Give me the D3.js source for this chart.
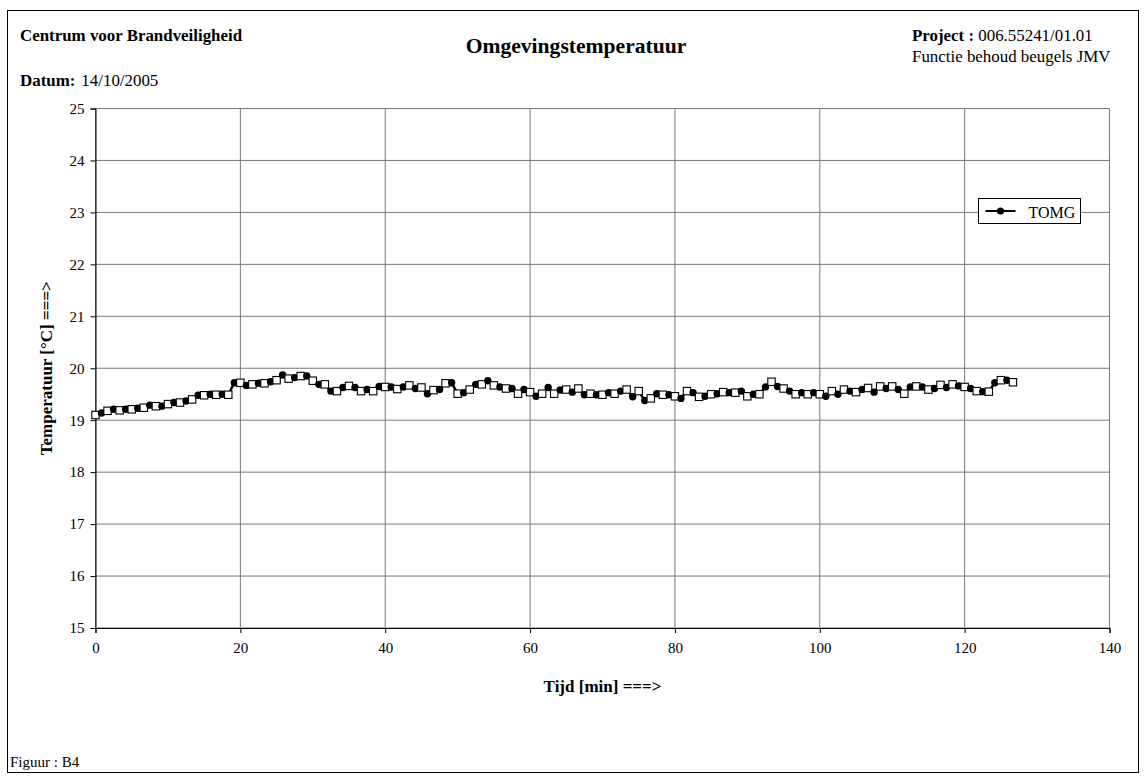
<!DOCTYPE html>
<head>
  <script src="https://cdn.jsdelivr.net/npm/d3@7/dist/d3.min.js"></script>
  <title>Omgevingstemperatuur</title>
  <style>
    body { margin: 0; background: #fff; }
    svg { display: block; font-family: "Liberation Serif", "Times New Roman", serif; }
  </style>
</head>
<div id="chart"></div>
<script>
  // sampling interval of the logger, minutes (50 s)
  const sampleMinutes = 50 / 60;
  // TOMG readings, one per sample
  const tomg = [
    19.10, 19.14, 19.18, 19.21, 19.19, 19.21, 19.21, 19.23, 19.24, 19.29,
    19.27, 19.27, 19.31, 19.34, 19.34, 19.37, 19.40, 19.48, 19.48, 19.50,
    19.49, 19.50, 19.49, 19.72, 19.72, 19.67, 19.69, 19.71, 19.71, 19.74,
    19.77, 19.87, 19.80, 19.82, 19.85, 19.85, 19.76, 19.69, 19.69, 19.56,
    19.56, 19.63, 19.66, 19.63, 19.56, 19.59, 19.56, 19.65, 19.64, 19.64,
    19.60, 19.64, 19.67, 19.61, 19.63, 19.51, 19.58, 19.59, 19.71, 19.72,
    19.51, 19.53, 19.59, 19.69, 19.69, 19.76, 19.67, 19.64, 19.61, 19.61,
    19.51, 19.59, 19.54, 19.46, 19.51, 19.63, 19.51, 19.58, 19.59, 19.54,
    19.61, 19.49, 19.51, 19.49, 19.49, 19.53, 19.51, 19.56, 19.59, 19.45,
    19.56, 19.38, 19.42, 19.51, 19.49, 19.49, 19.46, 19.42, 19.56, 19.53,
    19.45, 19.46, 19.50, 19.51, 19.54, 19.53, 19.53, 19.56, 19.46, 19.50,
    19.50, 19.64, 19.74, 19.65, 19.61, 19.56, 19.50, 19.53, 19.50, 19.53,
    19.50, 19.46, 19.56, 19.50, 19.59, 19.56, 19.54, 19.59, 19.62, 19.54,
    19.65, 19.61, 19.65, 19.59, 19.51, 19.64, 19.65, 19.64, 19.59, 19.61,
    19.68, 19.63, 19.69, 19.66, 19.64, 19.61, 19.56, 19.55, 19.55, 19.72,
    19.77, 19.77, 19.73
  ];
  const xTicks = [0, 20, 40, 60, 80, 100, 120, 140];
  const yTicks = [15, 16, 17, 18, 19, 20, 21, 22, 23, 24, 25];
  const seriesName = "TOMG";

  const width = 1146;
  const height = 778;
  const plot = {left: 95.5, right: 1109.5, top: 108.5, bottom: 628};

  const svg = d3.select("#chart").append("svg")
      .attr("width", width).attr("height", height);

  // page frame
  svg.append("rect")
      .attr("x", 7.5).attr("y", 10.5)
      .attr("width", 1131).attr("height", 762)
      .attr("fill", "none").attr("stroke", "#000");

  const x = d3.scaleLinear().domain([0, 140]).range([plot.left, plot.right]);
  const y = d3.scaleLinear().domain([15, 25]).range([plot.bottom, plot.top]);

  // grid
  svg.append("g").selectAll("line").data(yTicks).join("line")
      .attr("x1", plot.left).attr("x2", plot.right)
      .attr("y1", d => y(d)).attr("y2", d => y(d))
      .attr("stroke", "#777").attr("stroke-width", 1);
  svg.append("g").selectAll("line").data(xTicks).join("line")
      .attr("y1", plot.top).attr("y2", plot.bottom)
      .attr("x1", d => x(d)).attr("x2", d => x(d))
      .attr("stroke", "#777").attr("stroke-width", 1);

  // axes
  const yAxis = svg.append("g")
      .attr("transform", `translate(${plot.left},0)`)
      .call(d3.axisLeft(y).tickValues(yTicks).tickSize(5).tickPadding(6));
  const xAxis = svg.append("g")
      .attr("transform", `translate(0,${plot.bottom})`)
      .call(d3.axisBottom(x).tickValues(xTicks).tickSize(5).tickPadding(9));
  [xAxis, yAxis].forEach(a => {
    a.select(".domain").attr("stroke", "#000");
    a.selectAll(".tick line").attr("stroke", "#000");
    a.selectAll("text").attr("font-family", "Liberation Serif").attr("font-size", 15).attr("fill", "#000");
  });

  // series
  const pts = tomg.map((v, i) => ({t: i * sampleMinutes, v: v, i: i}));
  svg.append("path")
      .datum(pts)
      .attr("fill", "none").attr("stroke", "#000").attr("stroke-width", 2.4)
      .attr("d", d3.line().x(d => x(d.t)).y(d => y(d.v)));

  const marks = svg.append("g");
  pts.forEach(d => {
    if (d.i % 2 === 0) {
      marks.append("rect")
          .attr("x", x(d.t) - 3.7).attr("y", y(d.v) - 3.7)
          .attr("width", 7.4).attr("height", 7.4)
          .attr("fill", "#fff").attr("stroke", "#000").attr("stroke-width", 1.1);
    } else {
      marks.append("circle")
          .attr("cx", x(d.t)).attr("cy", y(d.v)).attr("r", 3.7)
          .attr("fill", "#000");
    }
  });

  // legend
  const lg = svg.append("g").attr("transform", "translate(978.5,198.5)");
  lg.append("rect").attr("width", 102).attr("height", 25)
      .attr("fill", "#fff").attr("stroke", "#000");
  lg.append("line").attr("x1", 7).attr("x2", 37).attr("y1", 12.5).attr("y2", 12.5)
      .attr("stroke", "#000").attr("stroke-width", 2);
  lg.append("circle").attr("cx", 22).attr("cy", 12.5).attr("r", 3.6).attr("fill", "#000");
  lg.append("text").attr("x", 50).attr("y", 19).attr("font-size", 16).text(seriesName);

  // header texts
  svg.append("text").attr("x", 20).attr("y", 41)
      .attr("font-size", 16.9).attr("font-weight", "bold")
      .text("Centrum voor Brandveiligheid");
  const datum = svg.append("text").attr("x", 20).attr("y", 86).attr("font-size", 16.9);
  datum.append("tspan").attr("font-weight", "bold").text("Datum:");
  datum.append("tspan").attr("dx", 6).text("14/10/2005");

  svg.append("text").attr("x", 576).attr("y", 53)
      .attr("text-anchor", "middle").attr("font-size", 21.6).attr("font-weight", "bold")
      .text("Omgevingstemperatuur");

  const proj = svg.append("text").attr("x", 912).attr("y", 41).attr("font-size", 16.9);
  proj.append("tspan").attr("font-weight", "bold").text("Project :");
  proj.append("tspan").text(" 006.55241/01.01");
  svg.append("text").attr("x", 912).attr("y", 62).attr("font-size", 16.9)
      .text("Functie behoud beugels JMV");

  // axis titles
  svg.append("text").attr("x", (plot.left + plot.right) / 2).attr("y", 692)
      .attr("text-anchor", "middle").attr("font-size", 17).attr("font-weight", "bold")
      .text("Tijd [min] ===>");
  svg.append("text")
      .attr("transform", `translate(52,${(plot.top + plot.bottom) / 2}) rotate(-90)`)
      .attr("text-anchor", "middle").attr("font-size", 17).attr("font-weight", "bold")
      .text("Temperatuur [°C] ===>");

  svg.append("text").attr("x", 10).attr("y", 767).attr("font-size", 15)
      .text("Figuur : B4");
</script>
